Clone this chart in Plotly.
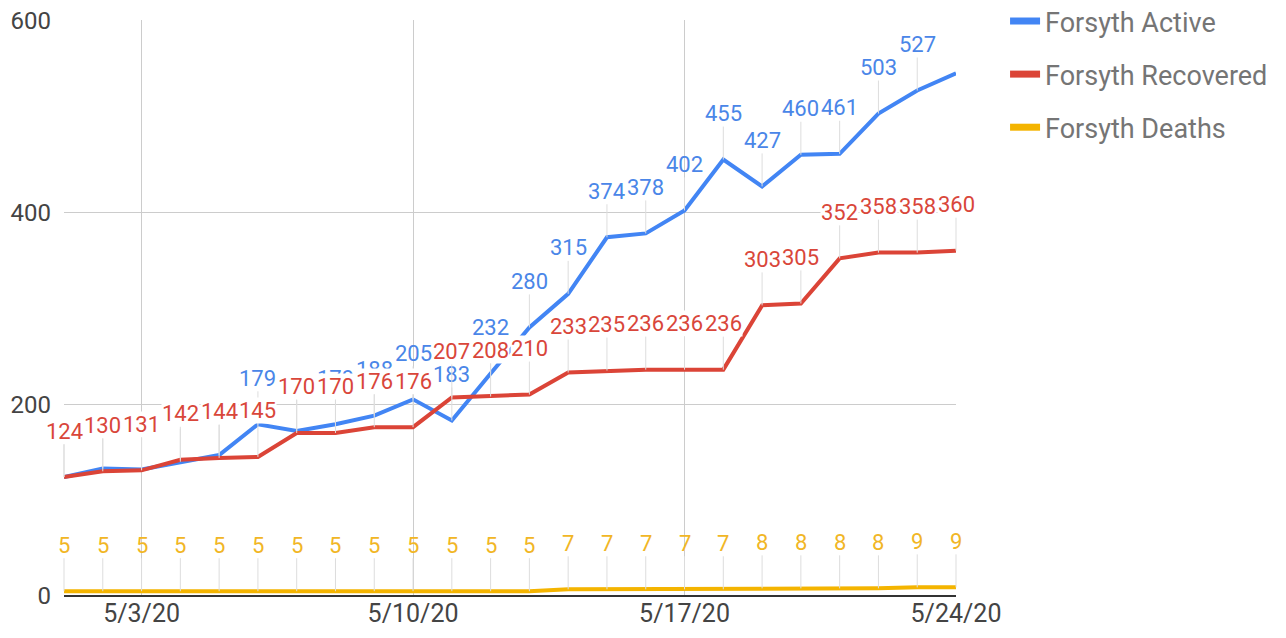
import plotly.graph_objects as go
import pandas as pd

dates = pd.date_range("2020-05-01", "2020-05-24", freq="D")
active = [124, 133, 132, 140, 147, 179, 172, 179, 188, 205, 183, 232, 280, 315,
          374, 378, 402, 455, 427, 460, 461, 503, 527, 545]
recovered = [124, 130, 131, 142, 144, 145, 170, 170, 176, 176, 207, 208, 210, 233,
             235, 236, 236, 236, 303, 305, 352, 358, 358, 360]
deaths = [5, 5, 5, 5, 5, 5, 5, 5, 5, 5, 5, 5, 5, 7, 7, 7, 7, 7, 8, 8, 8, 8, 9, 9]
x_ticks = ["2020-05-03", "2020-05-10", "2020-05-17", "2020-05-24"]
x_tick_labels = ["5/3/20", "5/10/20", "5/17/20", "5/24/20"]
y_ticks = [0, 200, 400, 600]

BLUE, RED, YELLOW = "#4285F4", "#DB4437", "#F4B400"
FONT = "Roboto"

series = [
    ("Forsyth Active", active, BLUE, "#4a86e8"),
    ("Forsyth Recovered", recovered, RED, "#d9463a"),
    ("Forsyth Deaths", deaths, YELLOW, "#f1b625"),
]

fig = go.Figure()
for i, (name, vals, col, _) in enumerate(series):
    fig.add_trace(go.Scatter(
        x=dates, y=vals, mode="lines", name=name, showlegend=False,
        line=dict(color=col, width=4), cliponaxis=False))
# legend entries with thicker swatches
for i, (name, vals, col, _) in enumerate(series):
    fig.add_trace(go.Scatter(
        x=[None], y=[None], mode="lines", name=name, legendgroup=str(i),
        line=dict(color=col, width=7)))

annotations = []
for name, vals, col, tcol in series:
    for j, (d, v) in enumerate(zip(dates, vals)):
        if name == "Forsyth Active" and j == len(vals) - 1:
            continue
        annotations.append(dict(
            x=d, y=v, xref="x", yref="y", text=str(v),
            showarrow=True, arrowhead=0, arrowwidth=1, arrowcolor="#dddddd",
            ax=0, ay=-46, standoff=0,
            font=dict(family=FONT, size=22, color=tcol),
            bgcolor="rgba(255,255,255,1)" if name == "Forsyth Recovered" else None,
            borderpad=0))

fig.update_layout(
    width=1278, height=630,
    margin=dict(l=56, r=330, t=12, b=42, autoexpand=False),
    paper_bgcolor="white", plot_bgcolor="white",
    font=dict(family=FONT, color="#444444"),
    annotations=annotations,
    showlegend=True,
    legend=dict(x=1.055, y=1.04, xanchor="left", yanchor="top",
                font=dict(family=FONT, size=27, color="#757575"),
                traceorder="grouped", tracegroupgap=15, itemwidth=30),
    xaxis=dict(range=[dates[0], dates[-1]], tickvals=x_ticks, ticktext=x_tick_labels,
               showgrid=True, gridcolor="#cccccc", gridwidth=1,
               tickfont=dict(size=25, color="#444444"), ticks="",
               showline=False, zeroline=False, ticklabeloverflow="allow"),
    yaxis=dict(range=[0, 600.5], tickvals=y_ticks, showgrid=True, gridcolor="#cccccc",
               gridwidth=1, zeroline=True, zerolinecolor="#333333", zerolinewidth=2,
               tickfont=dict(size=24, color="#444444"), ticks="",
               ticklabelstandoff=12, showline=False, ticklabeloverflow="allow"),
)

fig.write_html("out.html")
